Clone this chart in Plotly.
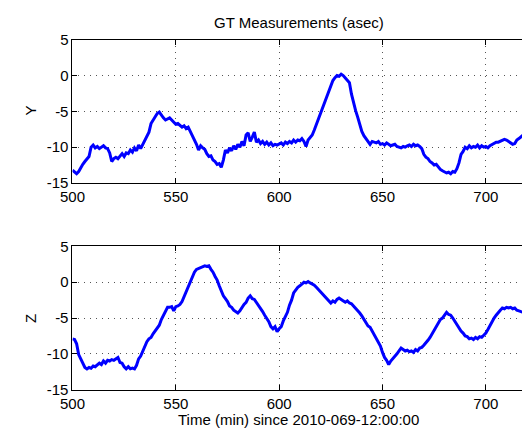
import plotly.graph_objects as go

time_min = list(range(500, 719))

y_asec = [
    -13.2, -13.5, -13.7, -13.4, -12.8, -12.4, -12.0, -11.6, -11.3, -10.0,
    -9.7, -10.1, -9.9, -10.2, -10.0, -9.8, -10.1, -10.2, -10.8, -12.0,
    -11.6, -11.4, -11.6, -11.2, -10.9, -11.3, -10.8, -10.9, -10.4, -10.7,
    -10.1, -10.5, -9.7, -10.2, -9.6, -9.1, -8.6, -7.9, -6.7, -6.2,
    -5.8, -5.3, -5.1, -5.6, -5.9, -6.2, -6.0, -5.9, -6.2, -6.5,
    -6.8, -6.7, -6.9, -7.2, -7.0, -7.4, -7.2, -7.8, -8.2, -9.0,
    -9.6, -10.4, -9.8, -10.1, -10.3, -10.9, -11.3, -11.2, -11.8, -12.0,
    -12.4, -12.3, -12.8, -11.8, -10.4, -10.8, -10.1, -10.5, -9.8, -10.3,
    -9.6, -10.0, -9.2, -9.8, -8.3, -8.0, -9.2, -8.6, -7.9, -9.3,
    -9.0, -9.5, -9.2, -9.6, -9.3, -9.7, -9.4, -9.8, -9.6, -9.7,
    -9.6, -9.4, -9.7, -9.3, -9.5, -9.2, -9.4, -9.0, -9.3, -9.0,
    -9.1, -8.8, -9.2, -9.9, -9.0, -8.7, -8.3, -7.6, -6.8, -6.1,
    -5.3, -4.4, -3.7, -2.8, -2.0, -1.3, -0.7, -0.3, 0.0, -0.1,
    0.2, 0.0, -0.3, -0.7, -1.0, -2.6, -4.0, -4.9, -5.8, -6.8,
    -7.8, -8.4, -8.8, -9.2, -9.6, -9.2, -9.3, -9.4, -9.2, -9.6,
    -9.5, -9.7, -9.4, -9.6, -9.8, -9.7, -9.6, -9.9, -10.0, -10.1,
    -9.9, -10.0, -9.8, -9.7, -9.9, -9.6, -9.8, -9.7, -9.9, -10.2,
    -11.0, -11.4, -11.6, -12.0, -12.2, -12.5, -12.4, -12.8, -13.1, -13.3,
    -13.5, -13.6, -13.5, -13.7, -13.4, -13.5, -13.0, -12.2, -11.0, -10.6,
    -10.0, -10.2, -9.8, -10.1, -9.9, -10.0, -9.7, -10.1, -9.8, -10.0,
    -9.9, -10.1, -9.8, -9.6, -9.5, -9.3, -9.3, -9.2, -9.0, -8.9,
    -9.0, -9.2, -9.4, -9.6, -9.5, -9.0, -8.8, -8.5, -8.3,
]

z_asec = [
    -7.9, -8.0, -8.6, -10.1, -10.7, -11.4, -11.9, -12.1, -11.9, -12.0,
    -11.7, -11.8, -11.6, -11.3, -11.5, -11.0, -11.3, -10.9, -11.0, -10.8,
    -10.9, -10.7, -10.5, -11.2, -11.3, -11.8, -12.1, -11.8, -12.1, -12.0,
    -12.1, -11.6, -10.7, -10.3, -9.6, -9.0, -8.3, -7.9, -7.7, -7.2,
    -6.8, -6.4, -6.0, -5.2, -4.6, -3.9, -3.5, -3.5, -3.4, -4.0,
    -3.4, -3.3, -3.1, -2.7, -2.0, -1.4, -0.7, 0.0, 0.7, 1.4,
    1.8, 1.9, 2.0, 2.1, 2.3, 2.2, 2.3, 1.8, 1.4, 0.8,
    0.3, -0.5, -1.3, -1.9, -2.3, -2.7, -3.3, -3.5, -3.9, -4.1,
    -4.3, -4.0, -3.5, -3.1, -2.8, -2.2, -1.9, -2.3, -2.4, -2.8,
    -3.2, -3.7, -4.1, -4.6, -5.0, -5.5, -6.2, -6.5, -6.2, -6.9,
    -6.5, -6.2, -5.4, -4.8, -4.2, -3.2, -2.5, -1.5, -1.1, -0.7,
    -0.5, -0.2, 0.0, -0.1, 0.1, -0.1, -0.2, -0.4, -0.7, -1.0,
    -1.3, -1.6, -1.9, -2.3, -2.6, -2.9, -2.6, -2.8, -2.4, -2.2,
    -2.4, -2.6, -2.8, -2.6, -2.9, -3.0, -3.3, -3.6, -3.9, -4.3,
    -4.7, -5.2, -5.6, -6.1, -6.3, -6.8, -7.3, -7.7, -8.3, -8.9,
    -9.8, -10.5, -10.9, -11.5, -11.0, -10.7, -10.3, -10.0, -9.6, -9.2,
    -9.4, -9.6, -9.5, -9.7, -9.6, -9.8, -9.4, -9.6, -9.2, -9.1,
    -8.8, -8.5, -8.1, -7.7, -7.2, -6.8, -6.2, -5.6, -5.2, -5.0,
    -4.6, -4.2, -4.5, -4.6, -5.0, -5.5, -5.9, -6.3, -6.8, -7.1,
    -7.5, -7.6, -7.9, -7.8, -8.0, -7.7, -7.9, -7.6, -7.7, -7.4,
    -7.1, -6.6, -6.0, -5.6, -5.0, -4.6, -4.2, -3.9, -3.6, -3.7,
    -3.5, -3.6, -3.5, -3.7, -3.6, -3.9, -4.0, -4.1, -4.2,
]

x_tickvals = [500, 550, 600, 650, 700]
x_ticktext = ["500", "550", "600", "650", "700"]
y_tickvals = [-15, -10, -5, 0, 5]
y_ticktext = ["-15", "-10", "-5", "0", "5"]

title_text = "GT Measurements (asec)"
x_label = "Time (min) since 2010-069-12:00:00"
panel_labels = ["Y", "Z"]

W, H = 522, 439
FONT = "Liberation Sans, Arial, Helvetica, sans-serif"
FS = 15

fig = go.Figure()
fig.add_trace(go.Scatter(x=time_min, y=y_asec, mode="lines",
                         line=dict(color="#0000ff", width=3),
                         xaxis="x", yaxis="y", showlegend=False))
fig.add_trace(go.Scatter(x=time_min, y=z_asec, mode="lines",
                         line=dict(color="#0000ff", width=3),
                         xaxis="x2", yaxis="y2", showlegend=False))

xd = [61 / W, 1.0]
top_dom = [1 - 181 / H, 1 - 32 / H]
bot_dom = [1 - 396 / H, 1 - 247 / H]

def xax(anchor):
    return dict(domain=xd, anchor=anchor, range=[500, 717.5],
                tickmode="array", tickvals=x_tickvals, ticktext=x_ticktext,
                showline=True, linecolor="black", linewidth=1, mirror="ticks",
                ticks="inside", ticklen=5, tickcolor="black",
                showgrid=True, gridcolor="#555555", gridwidth=1, griddash="1px,5px",
                zeroline=False, tickfont=dict(family=FONT, size=FS, color="black"),
                fixedrange=True)

def yax(anchor, dom):
    return dict(domain=dom, anchor=anchor, range=[-15, 5],
                tickmode="array", tickvals=y_tickvals, ticktext=y_ticktext,
                showline=True, linecolor="black", linewidth=1, mirror=False,
                ticks="inside", ticklen=5, tickcolor="black",
                showgrid=True, gridcolor="#555555", gridwidth=1, griddash="1px,5px",
                zeroline=False, tickfont=dict(family=FONT, size=FS, color="black"),
                fixedrange=True)

fig.update_layout(
    width=W, height=H,
    margin=dict(l=0, r=0, t=0, b=0),
    paper_bgcolor="white", plot_bgcolor="white",
    xaxis=xax("y"), yaxis=yax("x", top_dom),
    xaxis2=xax("y2"), yaxis2=yax("x2", bot_dom),
    font=dict(family=FONT, size=FS, color="black"),
)

ann = [
    dict(text=title_text, x=293 / W, y=1 - 14 / H, xanchor="center", yanchor="middle"),
    dict(text=x_label, x=293 / W, y=1 - 427 / H, xanchor="center", yanchor="middle"),
    dict(text=panel_labels[0], x=18 / W, y=1 - 106 / H, xanchor="center", yanchor="middle", textangle=-90),
    dict(text=panel_labels[1], x=18 / W, y=1 - 322 / H, xanchor="center", yanchor="middle", textangle=-90),
]
for a in ann:
    fig.add_annotation(xref="paper", yref="paper", showarrow=False,
                       font=dict(family=FONT, size=FS, color="black"), **a)

fig.write_html("out.html")
